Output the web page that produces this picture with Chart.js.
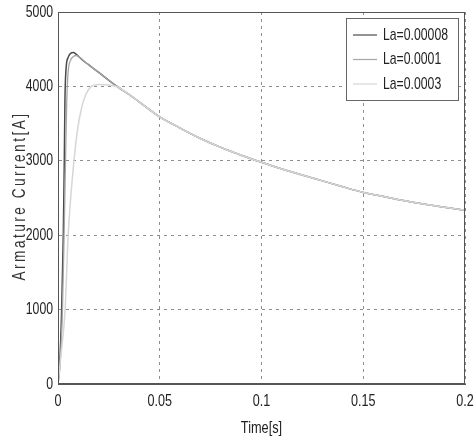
<!DOCTYPE html>
<html>
<head>
<meta charset="utf-8">
<script src="https://cdn.jsdelivr.net/npm/chart.js@4"></script>
<style>
  html, body { margin: 0; padding: 0; background: #fff; }
  #wrap { width: 476px; height: 447px; }
</style>
</head>
<body>
<div id="wrap"><canvas id="armature_cntxt" width="476" height="447"></canvas></div>
<script>
// values
var seriesLabels = ["La=0.00008", "La=0.0001", "La=0.0003"];

var timeA = [0, 0.0008, 0.0018, 0.0026, 0.0031, 0.0034, 0.004, 0.005, 0.006, 0.0075, 0.009, 0.012, 0.015, 0.02, 0.029, 0.035, 0.04, 0.05, 0.06, 0.07, 0.08, 0.09, 0.1, 0.11, 0.12, 0.13, 0.14, 0.15, 0.16, 0.175, 0.19, 0.2];
var currA = [0, 250, 1000, 2000, 3000, 3800, 4250, 4390, 4440, 4455, 4430, 4355, 4292, 4188, 4000, 3890, 3790, 3590, 3440, 3300, 3180, 3075, 2980, 2890, 2810, 2730, 2650, 2575, 2520, 2440, 2375, 2335];

var timeB = [0, 0.001, 0.0022, 0.003, 0.0037, 0.0043, 0.005, 0.006, 0.0075, 0.009, 0.011, 0.014, 0.02, 0.029, 0.035, 0.04, 0.05, 0.06, 0.07, 0.08, 0.09, 0.1, 0.11, 0.12, 0.13, 0.14, 0.15, 0.16, 0.175, 0.19, 0.2];
var currB = [0, 250, 1000, 2000, 3000, 3800, 4200, 4340, 4400, 4415, 4385, 4310, 4188, 4000, 3890, 3790, 3590, 3440, 3300, 3180, 3075, 2980, 2890, 2810, 2730, 2650, 2575, 2520, 2440, 2375, 2335];

var timeC = [0, 0.0015, 0.0035, 0.005, 0.0075, 0.0095, 0.0115, 0.0135, 0.016, 0.02, 0.025, 0.029, 0.035, 0.04, 0.05, 0.06, 0.07, 0.08, 0.09, 0.1, 0.11, 0.12, 0.13, 0.14, 0.15, 0.16, 0.175, 0.19, 0.2];
var currC = [0, 400, 1000, 2000, 2900, 3400, 3700, 3880, 3990, 4025, 4020, 3995, 3890, 3790, 3590, 3440, 3300, 3180, 3075, 2980, 2890, 2810, 2730, 2650, 2575, 2520, 2440, 2375, 2335];

var xTicks = [0, 0.05, 0.1, 0.15, 0.2];
var yTicks = [0, 1000, 2000, 3000, 4000, 5000];

var lineColors = ['#4a4a4a', '#a6a6a6', '#d6d6d6'];
var fam = "'Liberation Sans', Arial, sans-serif";

function pts(t, c) {
    return t.map(function (v, i) { return { x: v, y: c[i] }; });
}

// tall narrow text like the scanned figure
function narrowText(ctx, txt, x, y, size, sx, align) {
    ctx.save();
    ctx.font = size + "px " + fam;
    ctx.textAlign = align;
    ctx.textBaseline = 'middle';
    ctx.translate(x, y);
    ctx.scale(sx, 1);
    ctx.fillText(txt, 0, 0);
    ctx.restore();
}

var framePlugin = {
    id: 'frame',
    afterDraw: function (chart) {
        var ctx = chart.ctx, a = chart.chartArea;
        var xs = chart.scales.x, ys = chart.scales.y;
        ctx.save();
        ctx.strokeStyle = '#555';
        ctx.lineWidth = 1;
        ctx.strokeRect(a.left + 0.5, a.top + 0.5, a.right - a.left - 1, a.bottom - a.top - 1);

        ctx.fillStyle = '#222';
        xs.ticks.forEach(function (t) {
            narrowText(ctx, t.label, xs.getPixelForValue(t.value), a.bottom + 17, 17, 0.74, 'center');
        });
        ys.ticks.forEach(function (t) {
            narrowText(ctx, t.label, a.left - 5, ys.getPixelForValue(t.value), 17, 0.72, 'right');
        });
        narrowText(ctx, 'Time[s]', (a.left + a.right) / 2, a.bottom + 44, 17, 0.75, 'center');

        // legend
        var bx = a.right - 119, by = a.top + 6, bw = 112, bh = 82;
        ctx.fillStyle = '#fff';
        ctx.fillRect(bx, by, bw, bh);
        ctx.strokeStyle = '#666';
        ctx.strokeRect(bx + 0.5, by + 0.5, bw, bh);
        chart.data.datasets.forEach(function (ds, i) {
            var yy = by + 17 + i * 24.5;
            ctx.strokeStyle = ds.borderColor;
            ctx.lineWidth = 1.2;
            ctx.beginPath();
            ctx.moveTo(bx + 7, yy);
            ctx.lineTo(bx + 31, yy);
            ctx.stroke();
            ctx.fillStyle = '#222';
            narrowText(ctx, ds.label, bx + 37, yy, 17, 0.72, 'left');
        });

        // y title, spaced out
        ctx.translate(20, (a.top + a.bottom) / 2 - 2);
        ctx.rotate(-Math.PI / 2);
        ctx.scale(0.72, 1);
        ctx.font = "19px " + fam;
        if ('letterSpacing' in ctx) ctx.letterSpacing = '3.4px';
        ctx.fillStyle = '#333';
        ctx.textAlign = 'center';
        ctx.textBaseline = 'middle';
        ctx.fillText('Armature Current[A]', 0, 0);
        ctx.restore();
    }
};

var current_cntxt = document.getElementById("armature_cntxt").getContext('2d');
var armature_chart = new Chart(current_cntxt, {
    type: 'line',
    data: {
        datasets: [
            { label: seriesLabels[0], data: pts(timeA, currA), borderColor: lineColors[0], borderWidth: 1.5, order: 2 },
            { label: seriesLabels[1], data: pts(timeB, currB), borderColor: lineColors[1], borderWidth: 1.3, order: 1 },
            { label: seriesLabels[2], data: pts(timeC, currC), borderColor: lineColors[2], borderWidth: 1.5, order: 0 }
        ]
    },
    options: {
        responsive: false,
        animation: false,
        parsing: false,
        elements: {
            point: { radius: 0 },
            line: { tension: 0.4, cubicInterpolationMode: 'monotone', fill: false }
        },
        layout: { padding: { left: 10, right: 11, top: 12, bottom: 0 } },
        plugins: {
            legend: { display: false },
            tooltip: { enabled: false }
        },
        scales: {
            x: {
                type: 'linear',
                min: 0, max: 0.2,
                afterBuildTicks: function (s) { s.ticks = xTicks.map(function (v) { return { value: v }; }); },
                afterFit: function (s) { s.height = 63; },
                ticks: {
                    color: 'rgba(0,0,0,0)',
                    font: { family: fam, size: 4 },
                    maxRotation: 0,
                    callback: function (v) { return String(+v.toFixed(2)); }
                },
                grid: { color: '#8e8e8e', drawTicks: false },
                border: { display: true, color: '#555', dash: [3, 4] }
            },
            y: {
                type: 'linear',
                min: 0, max: 5000,
                afterBuildTicks: function (s) { s.ticks = yTicks.map(function (v) { return { value: v }; }); },
                afterFit: function (s) { s.width = 48; },
                ticks: {
                    color: 'rgba(0,0,0,0)',
                    font: { family: fam, size: 4 },
                    callback: function (v) { return String(v); }
                },
                grid: { color: '#8e8e8e', drawTicks: false },
                border: { display: true, color: '#555', dash: [3, 4] }
            }
        }
    },
    plugins: [framePlugin]
});
</script>
</body>
</html>
